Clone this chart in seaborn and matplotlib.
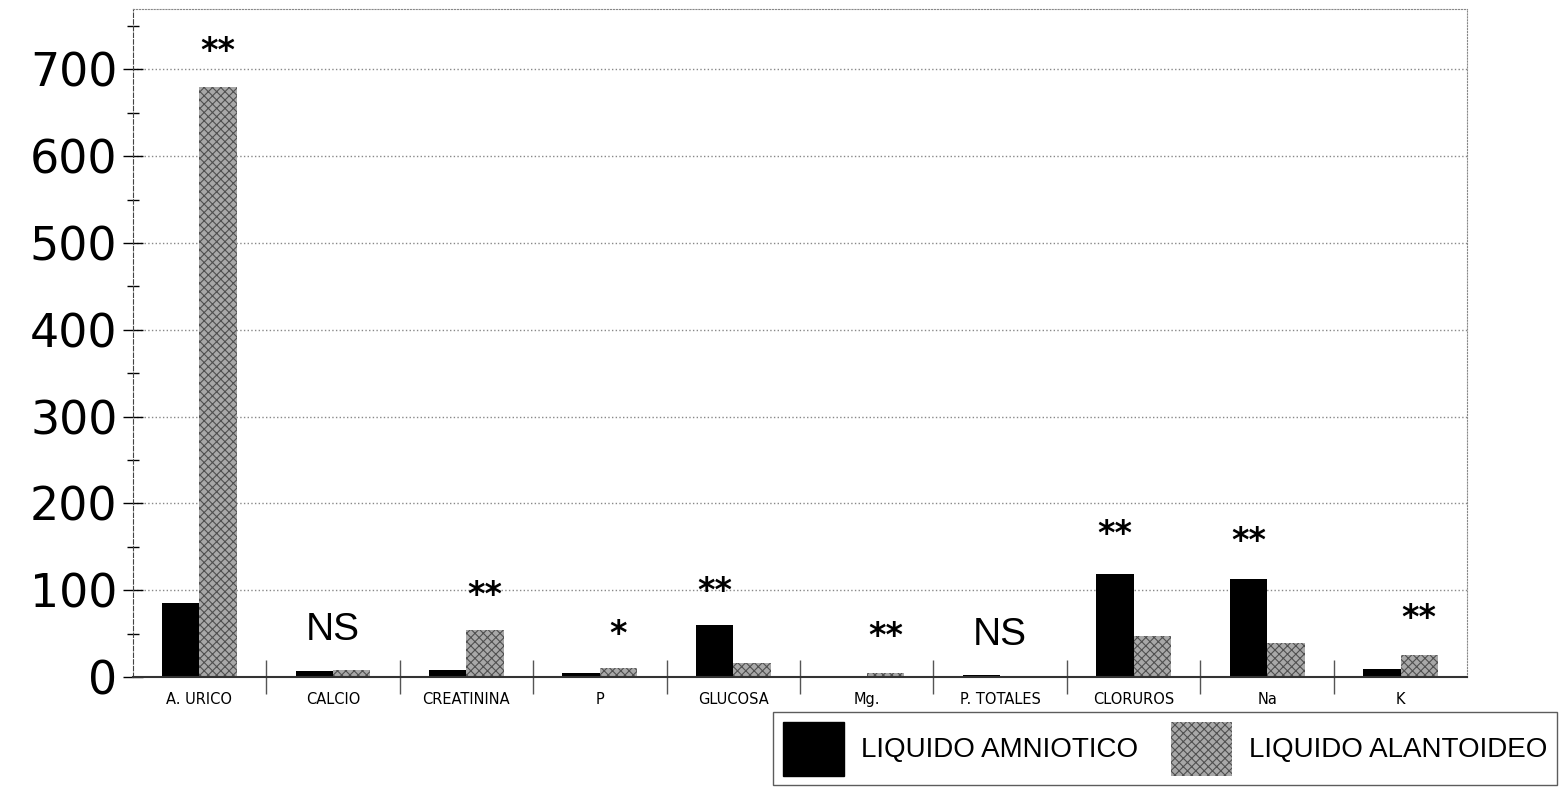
import pandas as pd
import matplotlib.pyplot as plt
import seaborn as sns
import numpy as np
from matplotlib.patches import Patch

categories = ['A. URICO', 'CALCIO', 'CREATININA', 'P', 'GLUCOSA', 'Mg.',
              'P. TOTALES', 'CLORUROS', 'Na', 'K']
amniotico = [85, 6.5, 8.5, 4, 59.5, 1.5, 2, 119, 112.5, 9.5]
alantoideo = [680, 8.5, 54.5, 10.5, 15.5, 5, 1.5, 47, 39.5, 25]
series_names = ['LIQUIDO AMNIOTICO', 'LIQUIDO ALANTOIDEO']

# significance marks: text, height (centre), which bar it sits over (-1 black, 0 centre, 1 gray)
sig_labels = ['**', 'NS', '**', '*', '**', '**', 'NS', '**', '**', '**']
sig_heights = [735, 54, 108, 63, 112, 60, 48, 178, 170, 81]
sig_side = [1, 0, 1, 1, -1, 1, 0, -1, -1, 1]

df = pd.DataFrame({
    'cat': categories * 2,
    'serie': [series_names[0]] * len(categories) + [series_names[1]] * len(categories),
    'valor': amniotico + alantoideo,
})

plt.rcParams['font.family'] = ['Liberation Sans', 'DejaVu Sans']
plt.rcParams['hatch.linewidth'] = 0.8
fig = plt.figure(figsize=(15.61, 7.88), dpi=100)
ax = fig.add_axes([0.085, 0.141, 0.855, 0.848])

bar_w = 0.56
sns.barplot(data=df, x='cat', y='valor', hue='serie', order=categories,
            hue_order=series_names, palette=['black', '#a8a8a8'],
            width=bar_w, gap=0, saturation=1, legend=False, ax=ax)

n = len(categories)
for i, p in enumerate(ax.patches):
    if n <= i < 2 * n:
        p.set_hatch('xxxx')
        p.set_edgecolor('#505050')
        p.set_linewidth(0)

ax.set_xlim(-0.5, n - 0.5)
ax.set_ylim(0, 770)
ax.set_yticks(np.arange(0, 701, 100))
ax.set_yticks(np.arange(50, 751, 100), minor=True)
ax.tick_params(axis='y', which='major', direction='inout', length=14, width=1, pad=4)
ax.tick_params(axis='y', which='minor', direction='inout', length=8, width=1)
for t in ax.get_yticklabels():
    t.set_fontfamily('DejaVu Sans')
    t.set_fontsize(33)
ax.yaxis.grid(True, which='major', linestyle=':', color='#888888', linewidth=1)
ax.set_axisbelow(True)

# x ticks between categories as separators, labels at centres
ax.set_xticks(np.arange(0.5, n - 0.5, 1))
ax.set_xticklabels([])
ax.set_xticks(np.arange(n), minor=True)
ax.set_xticklabels(categories, minor=True, fontfamily='DejaVu Sans', fontsize=10.5)
ax.tick_params(axis='x', which='minor', length=0, pad=11)
ax.tick_params(axis='x', which='major', direction='inout', length=24, width=1,
               color='#555555')
ax.set_xlabel('')
ax.set_ylabel('')

ax.spines['left'].set_linestyle((0, (4, 2)))
ax.spines['left'].set_color('#444444')
ax.spines['bottom'].set_color('#333333')
ax.spines['bottom'].set_linewidth(1.5)
for s in ['top', 'right']:
    ax.spines[s].set_linestyle(':')
    ax.spines[s].set_color('#888888')

for i, (lab, h, side) in enumerate(zip(sig_labels, sig_heights, sig_side)):
    x = i + side * bar_w / 4
    if lab == 'NS':
        ax.text(x, h, lab, ha='center', va='center', fontsize=28)
    else:
        ax.text(x, h - 14, lab, ha='center', va='center', fontsize=24,
                fontfamily='DejaVu Sans', fontweight='bold')

handles = [Patch(facecolor='black', edgecolor='black'),
           Patch(facecolor='#a8a8a8', edgecolor='#505050', hatch='xxxx', linewidth=0)]
leg = fig.legend(handles, series_names, loc='lower right',
                 bbox_to_anchor=(0.9975, 0.0035), ncol=2, fontsize=20,
                 handlelength=2.2, handleheight=2.6, frameon=True, fancybox=False,
                 edgecolor='#333333', borderpad=0.35, columnspacing=1.2,
                 handletextpad=0.6, borderaxespad=0)

fig.savefig('out.png', dpi=100)
